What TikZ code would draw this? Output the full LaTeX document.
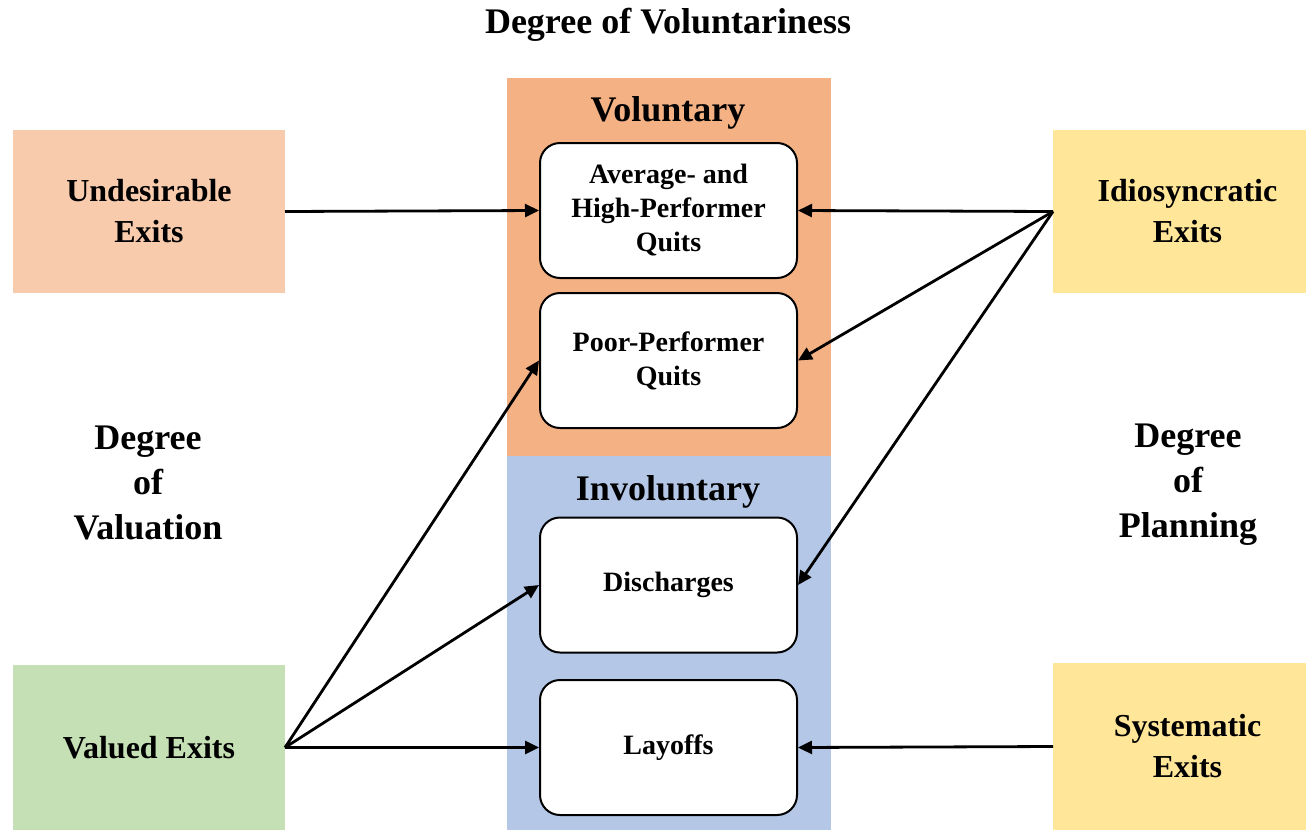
\documentclass[tikz,border=0pt]{standalone}
\usepackage{fontspec}
\setmainfont{Liberation Serif}
\usetikzlibrary{arrows.meta}
\definecolor{volc}{HTML}{F4B183}
\definecolor{invc}{HTML}{B4C7E7}
\definecolor{undc}{HTML}{F8CBAD}
\definecolor{valc}{HTML}{C5E0B4}
\definecolor{yelc}{HTML}{FFE699}
\begin{document}
\begin{tikzpicture}[x=1pt,y=-1pt,
  panel/.style={draw=none, inner sep=0, outer sep=0},
  card/.style={draw=black, line width=2pt, rounded corners=20pt, fill=white, minimum width=257pt, minimum height=135pt, inner sep=0, align=center, font=\fontsize{28}{34}\selectfont\bfseries},
  side/.style={inner sep=0, outer sep=0, align=center, font=\fontsize{32}{41}\selectfont\bfseries},
  lbl/.style={align=center, inner sep=0, font=\fontsize{36}{45}\selectfont\bfseries},
  arr/.style={-{Triangle[length=14pt,width=13pt]}, line width=2.8pt}
]
\useasboundingbox (0,0) rectangle (1306,830);
% panels
\node[panel, fill=volc, minimum width=324pt, minimum height=378pt] (volp) at (669,267) {};
\node[panel, fill=invc, minimum width=324pt, minimum height=374pt] (invp) at (669,643) {};
% titles
\node[lbl] (title) at (668,25) {Degree of Voluntariness};
\node[lbl] (vol) at (668,113) {Voluntary};
\node[lbl] (inv) at (668,492) {Involuntary};
\node[lbl] (dval) at (148,483) {Degree\\of\\Valuation};
\node[lbl] (dpl) at (1188,485) {Degree\\of\\Planning};
% side boxes
\node[side, fill=undc, minimum width=272pt, minimum height=163pt] (und) at (149,211.5) {Undesirable\\Exits};
\node[side, fill=valc, minimum width=272pt, minimum height=165pt] (val) at (149,747.5) {Valued Exits};
\node[side, fill=yelc, minimum width=253pt, minimum height=163pt] (idio) at (1179.5,211.5) {\hspace*{16pt}Idiosyncratic\\\hspace*{16pt}Exits};
\node[side, fill=yelc, minimum width=253pt, minimum height=167pt] (sys) at (1179.5,746.5) {\hspace*{16pt}Systematic\\\hspace*{16pt}Exits};
% cards
\node[card] (c1) at (668.5,210.5) {Average- and\\High-Performer\\Quits};
\node[card] (c2) at (668.5,360.5) {Poor-Performer\\Quits};
\node[card] (c3) at (668.5,585) {Discharges};
\node[card] (c4) at (668.5,747.5) {Layoffs};
% arrows
\draw[arr] (und.east) -- (c1.west);
\draw[arr] (idio.west) -- (c1.east);
\draw[arr] (idio.west) -- (c2.east);
\draw[arr] (idio.west) -- (c3.east);
\draw[arr] (val.east) -- (c2.west);
\draw[arr] (val.east) -- (c3.west);
\draw[arr] (val.east) -- (c4.west);
\draw[arr] (sys.west) -- (c4.east);
\end{tikzpicture}
\end{document}
